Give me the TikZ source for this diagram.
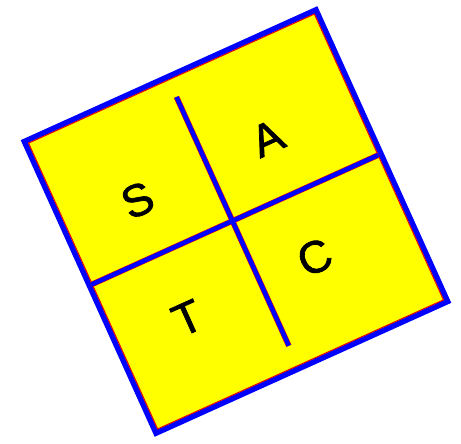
\documentclass[tikz,border=0pt]{standalone}
\usepackage{fontspec}
\setmainfont{Liberation Sans}
\newfontfamily\letterfont[FakeBold=1.6]{Liberation Sans}
\definecolor{boxyellow}{RGB}{255,255,0}
\definecolor{edgeblue}{RGB}{0,0,255}
\definecolor{fringered}{RGB}{230,0,0}
\tikzset{
  letter/.style={font=\letterfont\fontsize{45}{45}\selectfont, text=black, inner sep=0pt, transform shape},
  blueline/.style={draw=edgeblue, line width=4.5pt, line cap=butt},
  redline/.style={draw=fringered, line width=5.6pt, line cap=butt},
}
\begin{document}
\begin{tikzpicture}[x=1pt,y=-1pt]
\useasboundingbox (0,0) rectangle (461,444);
\begin{scope}[shift={(236,221.5)}, rotate=24.3]
  \coordinate (nw) at (-160,-160);
  \coordinate (ne) at (160,-160);
  \coordinate (se) at (160,160);
  \coordinate (sw) at (-160,160);
  \coordinate (vt) at (-3,-138);
  \coordinate (vb) at (-3,135);
  \coordinate (hl) at (-158,-2);
  \coordinate (hr) at (157,-2);
  \fill[boxyellow] (nw) -- (ne) -- (se) -- (sw) -- cycle;
  \draw[edgeblue, line width=5.5pt, line join=miter] (nw) -- (ne) -- (se) -- (sw) -- cycle;
  \draw[fringered, line width=1pt] (-156.8,-156.8) rectangle (156.8,156.8);
  \draw[redline] (hl) -- (hr);
  \draw[redline] (vt) -- (vb);
  \draw[blueline] (hl) -- (hr);
  \draw[blueline] (vt) -- (vb);
  \node[letter] (S) at (-81,-60) {S};
  \node[letter] (A) at (63,-63) {A};
  \node[letter] (C) at (57,65) {C};
  \node[letter] (T) at (-84,68) {T};
\end{scope}
\end{tikzpicture}
\end{document}
